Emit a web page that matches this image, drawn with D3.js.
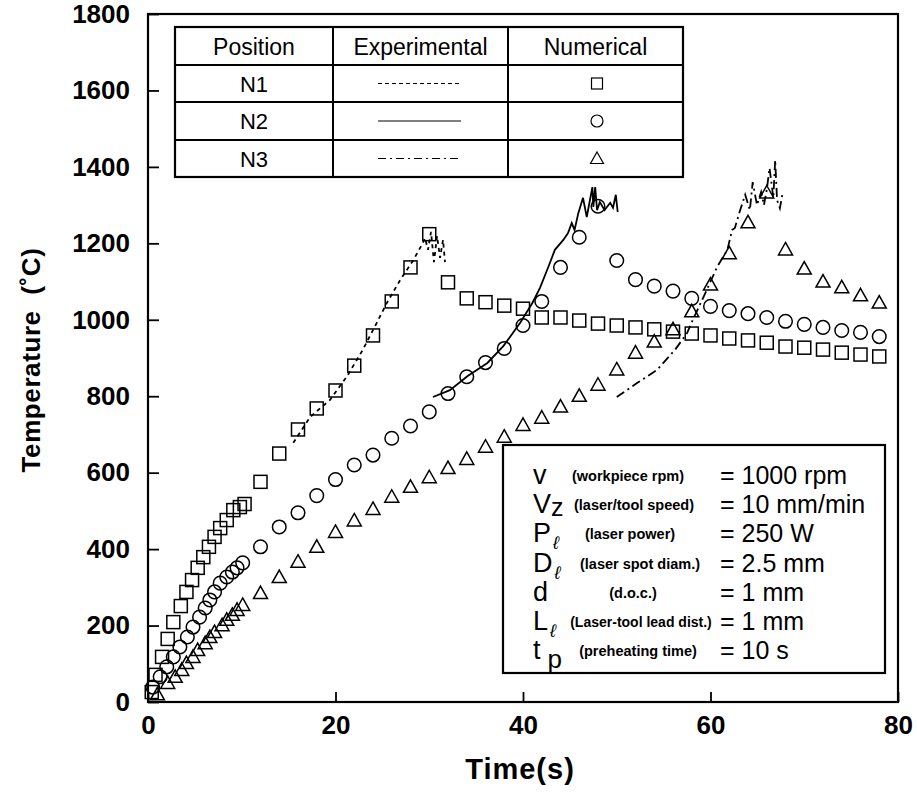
<!DOCTYPE html>
<html><head><meta charset="utf-8">
<script src="https://cdn.jsdelivr.net/npm/d3@7"></script>
<style>
body{margin:0;background:#fff}
svg{display:block}
text{font-family:"Liberation Sans",Arial,Helvetica,sans-serif;fill:#000}
</style>
</head><body>
<svg id="c" width="917" height="798"></svg>
<script>
// ---------- data ----------
const xTicks = [0, 20, 40, 60, 80];
const yTicks = [0, 200, 400, 600, 800, 1000, 1200, 1400, 1600, 1800];

// Numerical N1 (squares)
const n1Time = [0.4,0.8,1.5,2.1,2.7,3.5,4.1,4.7,5.3,5.9,6.5,7.1,7.7,8.4,9.1,9.8,10.3,
  12,14,16,18,20,22,24,26,28,30,32,34,36,38,40,42,44,46,48,50,52,54,56,58,60,62,64,66,68,70,72,74,76,78];
const n1Temp = [26,71,118,165,209,251,288,319,351,379,406,432,455,476,502,510,518,
  576,650,713,768,815,880,959,1048,1137,1224,1098,1056,1046,1037,1029,1006,1006,998,990,985,980,975,969,964,959,951,946,940,930,927,922,914,909,904];

// Numerical N2 (circles)
const n2Time = [0.5,1.3,2.0,2.7,3.4,4.2,4.8,5.5,6.1,6.6,7.1,7.7,8.4,9.0,9.5,10.1,
  12,14,16,18,20,22,24,26,28,30,32,34,36,38,40,42,44,46,48,50,52,54,56,58,60,62,64,66,68,70,72,74,76,78];
const n2Temp = [39,66,92,118,144,170,196,222,246,267,288,311,327,340,351,364,
  406,458,495,540,582,620,646,690,722,759,807,851,888,925,985,1048,1137,1216,1297,1155,1105,1088,1075,1056,1035,1024,1016,1006,996,988,980,972,967,956];

// Numerical N3 (triangles)
const n3Time = [1.0,2.1,2.9,3.6,4.1,4.8,5.3,6.1,6.6,7.1,7.9,8.4,9.0,9.5,10.1,
  12,14,16,18,20,22,24,26,28,30,32,34,36,38,40,42,44,46,48,50,52,54,56,58,60,62,64,66,68,70,72,74,76,78];
const n3Temp = [20,50,66,84,102,118,136,154,170,183,201,215,228,241,254,
  285,327,367,406,445,475,505,537,563,588,612,636,668,694,725,744,773,801,830,870,914,943,975,1022,1092,1174,1255,1333,1184,1134,1100,1085,1064,1045];

// Experimental N1 (dashed)
const e1Time = [15.5,17.3,19.4,21.2,22.9,24.4,25.5,26.9,28.3,29.3,29.55,29.87,30.19,30.5,30.83,31.15,31.47,31.68];
const e1Temp = [678,746,790,851,921,992,1045,1104,1156,1200,1214,1183,1230,1151,1219,1162,1209,1151];

// Experimental N2 (solid)
const e2Time = [30.4,32.2,34.1,36.2,37.9,39.7,41.0,41.8,42.7,43.4,44.3,44.8,45.2,45.5,45.9,46.4,46.8,47.4,47.5,47.7,47.9,48.2,48.7,49.3,49.6,49.9,50.1];
const e2Temp = [798,816,853,887,931,992,1044,1083,1138,1183,1209,1227,1253,1235,1279,1319,1269,1347,1295,1347,1287,1308,1287,1306,1293,1327,1282];

// Experimental N3 (dash-dot)
const e3Time = [50.0,52.2,54.3,56.2,57.5,58.1,59.6,60.7,61.8,62.3,62.6,63.1,63.7,64.2,64.5,64.96,65.4,65.7,66.0,66.3,66.7,66.9,67.1,67.4,67.7];
const e3Temp = [798,835,869,921,965,999,1078,1138,1183,1235,1240,1282,1327,1287,1360,1300,1334,1300,1340,1397,1319,1418,1313,1292,1332];

const legendRows = ["N1", "N2", "N3"];
const legendHeaders = ["Position", "Experimental", "Numerical"];

const paramSymbols = ["v", "V", "P", "D", "d", "L", "t"];
const paramSubs = ["", "z", "ℓ", "ℓ", "", "ℓ", "p"];
const paramNotes = ["(workpiece rpm)", "(laser/tool speed)", "(laser power)", "(laser spot diam.)", "(d.o.c.)", "(Laser-tool lead dist.)", "(preheating time)"];
const paramValues = ["= 1000 rpm", "= 10 mm/min", "= 250 W", "= 2.5 mm", "= 1 mm", "= 1 mm", "= 10 s"];

// ---------- chart ----------
const svg = d3.select("#c");
const L = 148, R = 898, T = 14, B = 702;
const x = d3.scaleLinear().domain([0, 80]).range([L, R]);
const y = d3.scaleLinear().domain([0, 1800]).range([B, T]);

// axes
const gx = svg.append("g").attr("transform", `translate(0,${B})`)
  .call(d3.axisBottom(x).tickValues(xTicks).tickSize(-10).tickPadding(14).tickFormat(d3.format("d")));
gx.select(".domain").remove();
gx.selectAll(".tick line").attr("stroke", "#000").attr("stroke-width", 1.8);
gx.selectAll(".tick text").attr("font-size", 26).attr("font-weight", "bold")
  .attr("font-family", '"Liberation Sans",Arial,sans-serif').attr("fill", "#000");

const gy = svg.append("g").attr("transform", `translate(${L},0)`)
  .call(d3.axisLeft(y).tickValues(yTicks).tickSize(-11).tickPadding(18).tickFormat(d3.format("d")));
gy.select(".domain").remove();
gy.selectAll(".tick line").attr("stroke", "#000").attr("stroke-width", 1.8);
gy.selectAll(".tick text").attr("font-size", 26).attr("font-weight", "bold")
  .attr("font-family", '"Liberation Sans",Arial,sans-serif').attr("fill", "#000");

// frame
svg.append("rect").attr("x", L).attr("y", T).attr("width", R - L).attr("height", B - T)
  .attr("fill", "none").attr("stroke", "#000").attr("stroke-width", 2.2);

// axis titles
svg.append("text").attr("x", 520).attr("y", 779).attr("text-anchor", "middle")
  .attr("font-size", 29).attr("font-weight", "bold").attr("letter-spacing", 1).text("Time(s)");
svg.append("text").attr("transform", "translate(40,360) rotate(-90)").attr("text-anchor", "middle")
  .attr("font-size", 26).attr("font-weight", "bold").attr("letter-spacing", 0.6)
  .attr("xml:space", "preserve").text("Temperature  (˚C)");

// experimental lines
const line = d3.line().x(d => x(d[0])).y(d => y(d[1]));
const zip = (a, b) => a.map((v, i) => [v, b[i]]);
svg.append("path").attr("d", line(zip(e1Time, e1Temp))).attr("fill", "none")
  .attr("stroke", "#000").attr("stroke-width", 1.8).attr("stroke-dasharray", "4,4");
svg.append("path").attr("d", line(zip(e2Time, e2Temp))).attr("fill", "none")
  .attr("stroke", "#000").attr("stroke-width", 1.8);
svg.append("path").attr("d", line(zip(e3Time, e3Temp))).attr("fill", "none")
  .attr("stroke", "#000").attr("stroke-width", 1.8).attr("stroke-dasharray", "9,4,2,4");

// numerical markers
const mk = {stroke: "#000", "stroke-width": 1.5, fill: "none"};
function applyMk(sel) { Object.entries(mk).forEach(([k, v]) => sel.attr(k, v)); return sel; }

applyMk(svg.append("g").selectAll("rect").data(zip(n1Time, n1Temp)).join("rect")
  .attr("x", d => x(d[0]) - 6.5).attr("y", d => y(d[1]) - 6.5).attr("width", 13).attr("height", 13));
applyMk(svg.append("g").selectAll("circle").data(zip(n2Time, n2Temp)).join("circle")
  .attr("cx", d => x(d[0])).attr("cy", d => y(d[1])).attr("r", 6.8));
applyMk(svg.append("g").selectAll("path").data(zip(n3Time, n3Temp)).join("path")
  .attr("d", d => `M${x(d[0])},${y(d[1]) - 7} L${x(d[0]) + 7},${y(d[1]) + 5.5} L${x(d[0]) - 7},${y(d[1]) + 5.5} Z`));

// legend table
const tbl = svg.append("g");
const colX = [175, 333, 508, 683];
const rowY = [27, 65, 102, 140, 177];
tbl.append("rect").attr("x", colX[0]).attr("y", rowY[0]).attr("width", colX[3] - colX[0]).attr("height", rowY[4] - rowY[0])
  .attr("fill", "#fff").attr("stroke", "#000").attr("stroke-width", 2.2);
[1, 2].forEach(i => tbl.append("line").attr("x1", colX[i]).attr("x2", colX[i]).attr("y1", rowY[0]).attr("y2", rowY[4])
  .attr("stroke", "#000").attr("stroke-width", 2));
[1, 2, 3].forEach(i => tbl.append("line").attr("x1", colX[0]).attr("x2", colX[3]).attr("y1", rowY[i]).attr("y2", rowY[i])
  .attr("stroke", "#000").attr("stroke-width", 2));
legendHeaders.forEach((h, i) => tbl.append("text").attr("x", (colX[i] + colX[i + 1]) / 2).attr("y", 55)
  .attr("text-anchor", "middle").attr("font-size", 23).text(h));
legendRows.forEach((r, i) => {
  const cy = (rowY[i + 1] + rowY[i + 2]) / 2;
  tbl.append("text").attr("x", (colX[0] + colX[1]) / 2).attr("y", cy + 8).attr("text-anchor", "middle")
    .attr("font-size", 22).text(r);
  const ln = tbl.append("line").attr("x1", 378).attr("x2", 461).attr("y1", cy).attr("y2", cy)
    .attr("stroke", "#000").attr("stroke-width", 1);
  if (i === 0) ln.attr("stroke-dasharray", "4,3");
  if (i === 2) ln.attr("stroke-dasharray", "8,4,2,4");
  const sx = 597;
  if (i === 0) tbl.append("rect").attr("x", sx - 5.5).attr("y", cy - 5.5).attr("width", 11).attr("height", 11)
    .attr("fill", "none").attr("stroke", "#000").attr("stroke-width", 1.2);
  if (i === 1) tbl.append("circle").attr("cx", sx).attr("cy", cy).attr("r", 6)
    .attr("fill", "none").attr("stroke", "#000").attr("stroke-width", 1.2);
  if (i === 2) tbl.append("path").attr("d", `M${sx},${cy - 6.5} L${sx + 6.5},${cy + 5} L${sx - 6.5},${cy + 5} Z`)
    .attr("fill", "none").attr("stroke", "#000").attr("stroke-width", 1.2);
});

// parameter box
const pb = svg.append("g");
pb.append("rect").attr("x", 503).attr("y", 445).attr("width", 382).attr("height", 228)
  .attr("fill", "#fff").attr("stroke", "#000").attr("stroke-width", 2.2);
const noteX = [628, 634, 630, 640, 633, 641, 638];
paramSymbols.forEach((s, i) => {
  const by = 484 + i * 29.2;
  const t = pb.append("text").attr("x", 533).attr("y", by).attr("font-size", 27);
  t.append("tspan").text(s);
  if (paramSubs[i] === "z") t.append("tspan").attr("dy", 3).attr("font-size", 25).text("z");
  else if (paramSubs[i] === "ℓ") t.append("tspan").attr("dx", 2).attr("dy", 7).attr("font-size", 18).attr("font-style", "italic").text("ℓ");
  else if (paramSubs[i] === "p") t.append("tspan").attr("dx", 7).attr("dy", 9).attr("font-size", 26).text("p");
  pb.append("text").attr("x", noteX[i]).attr("y", by - 3).attr("text-anchor", "middle")
    .attr("font-size", i === 5 ? 14 : 14.5).attr("font-weight", "bold").text(paramNotes[i]);
  pb.append("text").attr("x", 720).attr("y", by).attr("font-size", 25).text(paramValues[i]);
});
</script>
</body></html>
